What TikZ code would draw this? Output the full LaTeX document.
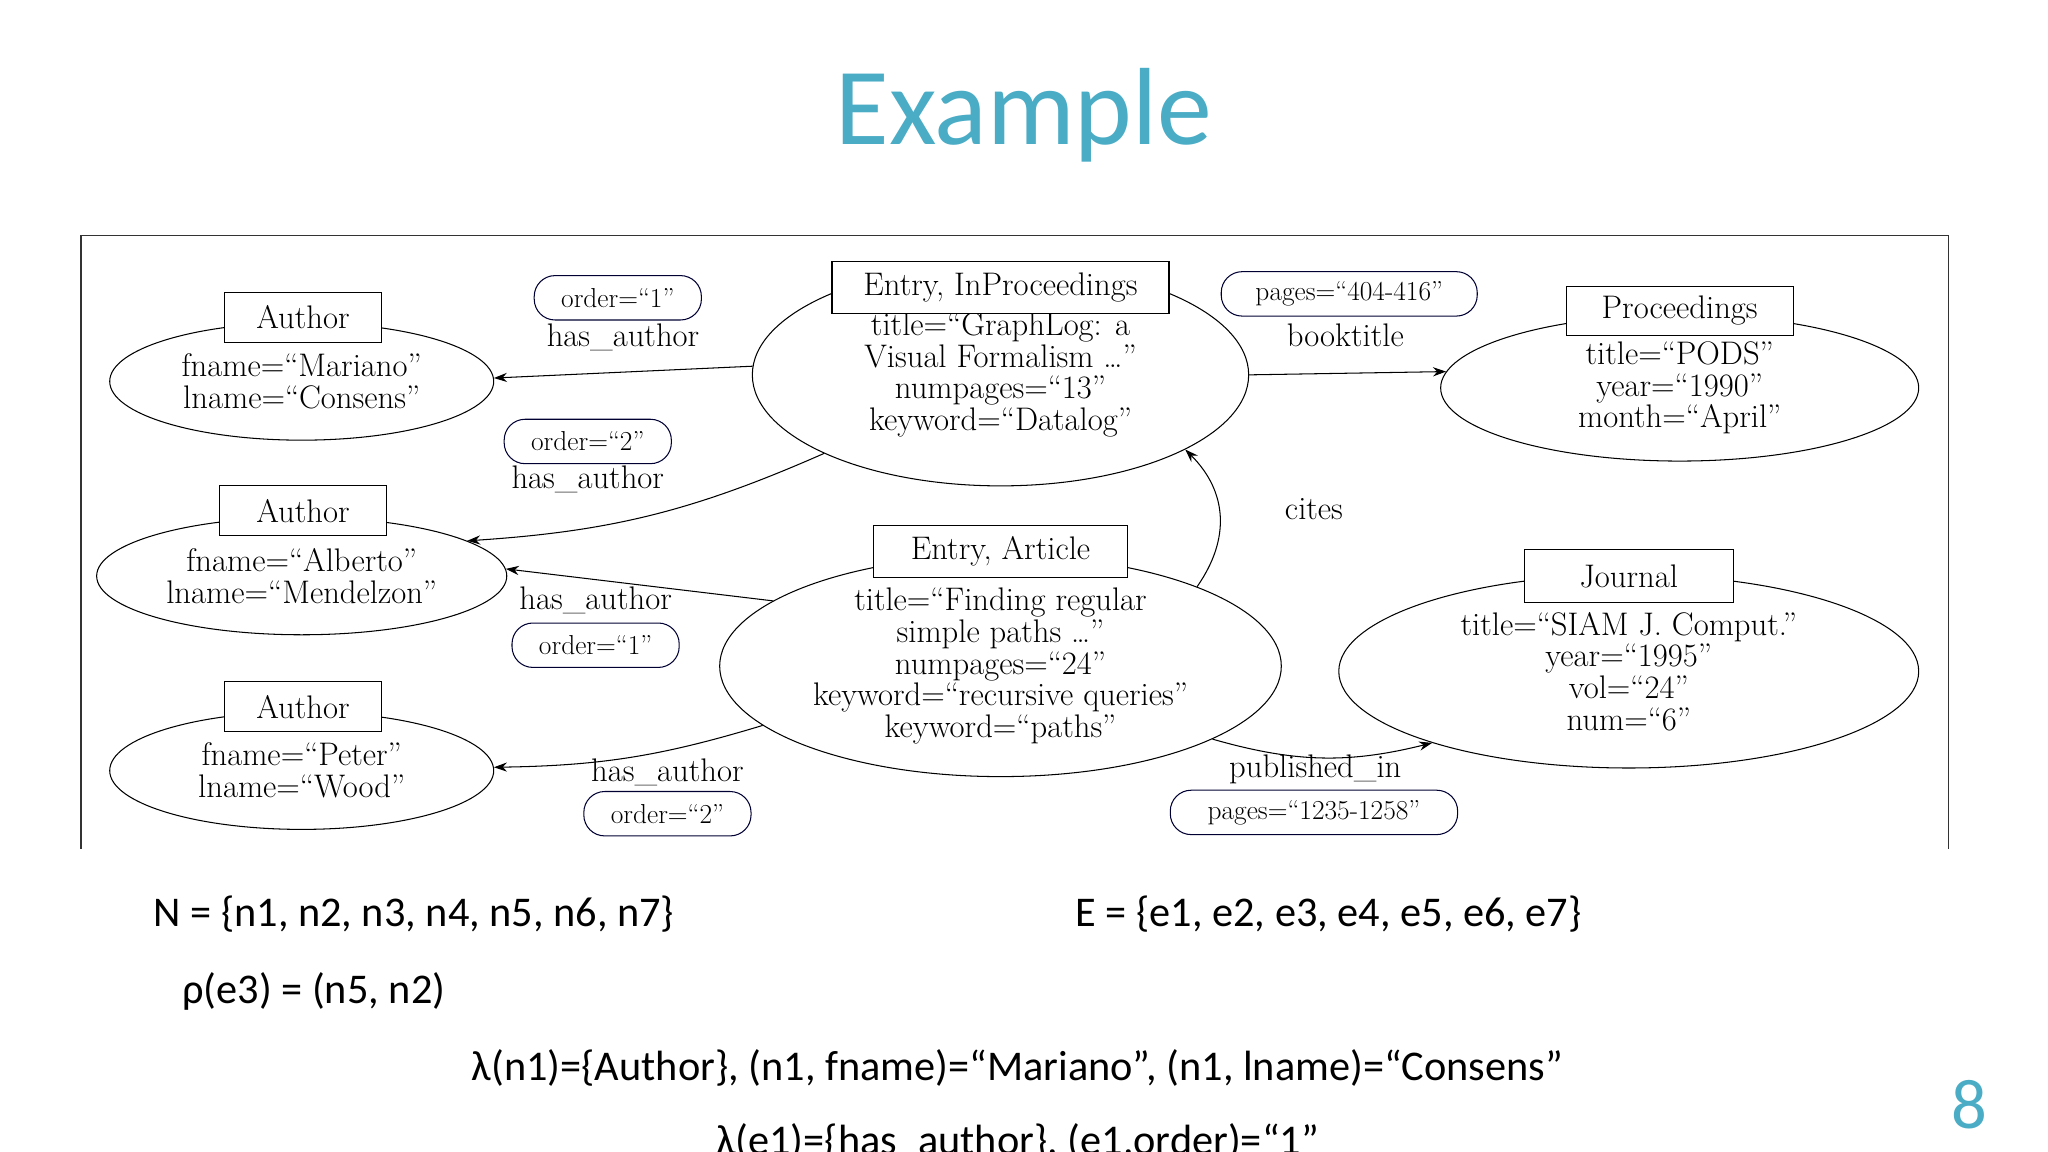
\documentclass[tikz,border=0pt]{standalone}
\usepackage{fontspec}
\usetikzlibrary{shapes.geometric,arrows.meta}
\newfontfamily\slidefont{Carlito}
\definecolor{teal1}{RGB}{75,172,198}
\begin{document}
\begin{tikzpicture}[x=1pt,y=-1pt,
  ent/.style={ellipse,draw,thick,inner sep=0pt,align=center,font=\fontsize{25}{24.3}\selectfont},
  lab/.style={rectangle,draw,thick,fill=white,minimum height=38pt,font=\fontsize{25}{24}\selectfont},
  eprop/.style={rectangle,rounded corners=16pt,draw=black!80!blue,thick,minimum height=34pt,font=\fontsize{21}{20}\selectfont},
  elab/.style={font=\fontsize{25}{24}\selectfont},
  conn/.style={-{Stealth[length=10pt,width=7pt]},thick},
  slide/.style={font=\slidefont\fontsize{32.4}{36}\selectfont,anchor=west}]
\useasboundingbox (0,0) rectangle (1568,882);
\node[text=teal1,font=\slidefont\fontsize{84}{90}\selectfont] (title) at (784,88) {Example};
\draw[thick,black!80] (62,650) -- (62,180) -- (1492,180) -- (1492,650);

% nodes
\node[ent,minimum width=294pt,minimum height=90pt] (a1) at (231,292) {fname=“Mariano”\\lname=“Consens”};
\node[ent,minimum width=314pt,minimum height=90pt] (a2) at (231,441) {fname=“Alberto”\\lname=“Mendelzon”};
\node[ent,minimum width=294pt,minimum height=90pt] (a3) at (231,590) {fname=“Peter”\\lname=“Wood”};
\node[ent,minimum width=380pt,minimum height=170pt] (ip) at (766,287) {title=“GraphLog: a\\Visual Formalism \dots”\\numpages=“13”\\keyword=“Datalog”};
\node[ent,minimum width=366pt,minimum height=112pt] (pr) at (1286,297) {title=“PODS”\\year=“1990”\\month=“April”};
\node[ent,minimum width=430pt,minimum height=168pt] (ar) at (766,510) {title=“Finding regular\\simple paths \dots”\\numpages=“24”\\keyword=“recursive queries”\\keyword=“paths”};
\node[ent,minimum width=444pt,minimum height=148pt] (jo) at (1247,514) {title=“SIAM J. Comput.”\\year=“1995”\\vol=“24”\\num=“6”};

\node[lab,minimum width=120pt] (l1) at (232,243) {Author};
\node[lab,minimum width=128pt] (l2) at (232,391) {Author};
\node[lab,minimum width=120pt] (l3) at (232,541) {Author};
\node[lab,minimum width=258pt,minimum height=40pt] (lip) at (766,220) {Entry, InProceedings};
\node[lab,minimum width=174pt] (lpr) at (1286,238) {Proceedings};
\node[lab,minimum width=194pt,minimum height=40pt] (lar) at (766,422) {Entry, Article};
\node[lab,minimum width=160pt,minimum height=40pt] (ljo) at (1247,441) {Journal};

% edge labels
\node[eprop,minimum width=128pt] (o1) at (473,228) {order=“1”};
\node[elab] (h1) at (477,258) {has\_author};
\node[eprop,minimum width=128pt] (o2) at (450,338) {order=“2”};
\node[elab] (h2) at (450,367) {has\_author};
\node[eprop,minimum width=196pt] (pg1) at (1033,225) {pages=“404-416”};
\node[elab] (bt) at (1030,257) {booktitle};
\node[elab] (ci) at (1006,390) {cites};
\node[elab] (h3) at (456,460) {has\_author};
\node[eprop,minimum width=128pt] (o3) at (456,494) {order=“1”};
\node[elab] (h4) at (511,591) {has\_author};
\node[eprop,minimum width=128pt] (o4) at (511,623) {order=“2”};
\node[elab] (pi) at (1007,589) {published\_in};
\node[eprop,minimum width=220pt] (pg2) at (1006,622) {pages=“1235-1258”};

% edges
\draw[conn] (ip.178) -- (a1.1);
\draw[conn] (ip.204) to[bend left=10] (a2.12);
\draw[conn] (ar.164) -- (a2.2);
\draw[conn] (ar.194) to[bend left=8] (a3.1);
\draw[conn] (ip.0) -- (pr.176);
\draw[conn] (ar.22) to[out=55,in=-45,looseness=1.1] (ip.-22);
\draw[conn] (ar.-19) to[bend right=15] (jo.200);

% slide text
\node[slide] (tn) at (114,700) {N = \{n1, n2, n3, n4, n5, n6, n7\}};
\node[slide] (te) at (820,700) {E = \{e1, e2, e3, e4, e5, e6, e7\}};
\node[slide] (trho) at (136,759) {ρ(e3) = (n5, n2)};
\node[slide,anchor=center] (tl1) at (779,818) {λ(n1)=\{Author\}, (n1, fname)=“Mariano”, (n1, lname)=“Consens”};
\node[slide,anchor=center] (tl2) at (779,874) {λ(e1)=\{has\_author\}, (e1,order)=“1”};
\node[text=teal1,font=\slidefont\fontsize{54}{60}\selectfont] (pn) at (1508,846) {8};
\end{tikzpicture}
\end{document}
